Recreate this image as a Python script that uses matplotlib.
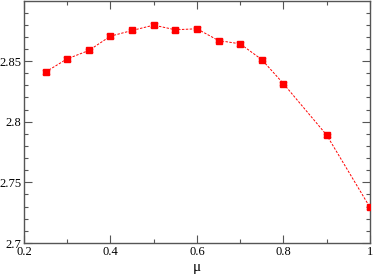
import numpy as np
import matplotlib.pyplot as plt
from matplotlib.ticker import MultipleLocator

mu = [0.25, 0.30, 0.35, 0.40, 0.45, 0.50, 0.55, 0.60, 0.65, 0.70, 0.75, 0.80, 0.90, 1.00]
val = [2.841, 2.8518, 2.8587, 2.8705, 2.8752, 2.8796, 2.8758, 2.8766, 2.8669, 2.8642, 2.8512, 2.8314, 2.789, 2.7295]
err = [0.0015, 0.0015, 0.0015, 0.0015, 0.0012, 0.0015, 0.0015, 0.0012, 0.0012, 0.0015, 0.0012, 0.0012, 0.0012, 0.0012]

plt.rcParams['font.family'] = ['Liberation Serif', 'DejaVu Serif']

fig = plt.figure(figsize=(3.74, 2.77), dpi=100)
ax = fig.add_axes([0.064, 0.1227, 0.925, 0.8737])

ax.errorbar(mu, val, yerr=err, fmt='s', color='red', ms=5, ecolor='#ff9999',
            elinewidth=1, capsize=3, capthick=1, zorder=3)
ax.plot(mu, val, '--', color='red', lw=0.7, dashes=(2.5, 1.5), zorder=2)

ax.set_xlim(0.2, 1.0)
ax.set_ylim(2.7, 2.8995)
ax.xaxis.set_major_locator(MultipleLocator(0.2))
ax.xaxis.set_minor_locator(MultipleLocator(0.1))
ax.yaxis.set_major_locator(MultipleLocator(0.05))
ax.yaxis.set_minor_locator(MultipleLocator(0.01))

# 去掉多余的零
def fmt(v, pos):
    return ('%.2f' % v).rstrip('0').rstrip('.')
ax.xaxis.set_major_formatter(plt.FuncFormatter(fmt))
ax.yaxis.set_major_formatter(plt.FuncFormatter(fmt))

ax.tick_params(which='both', direction='in', top=True, right=True, labelsize=9,
               color='#555555', width=0.8, pad=2)
ax.tick_params(which='major', length=6)
ax.tick_params(which='minor', length=3)
for s in ax.spines.values():
    s.set_color('#555555')
    s.set_linewidth(1.0)

ax.set_xlabel('μ', fontsize=11, labelpad=2)

fig.savefig('out.png', dpi=100)
